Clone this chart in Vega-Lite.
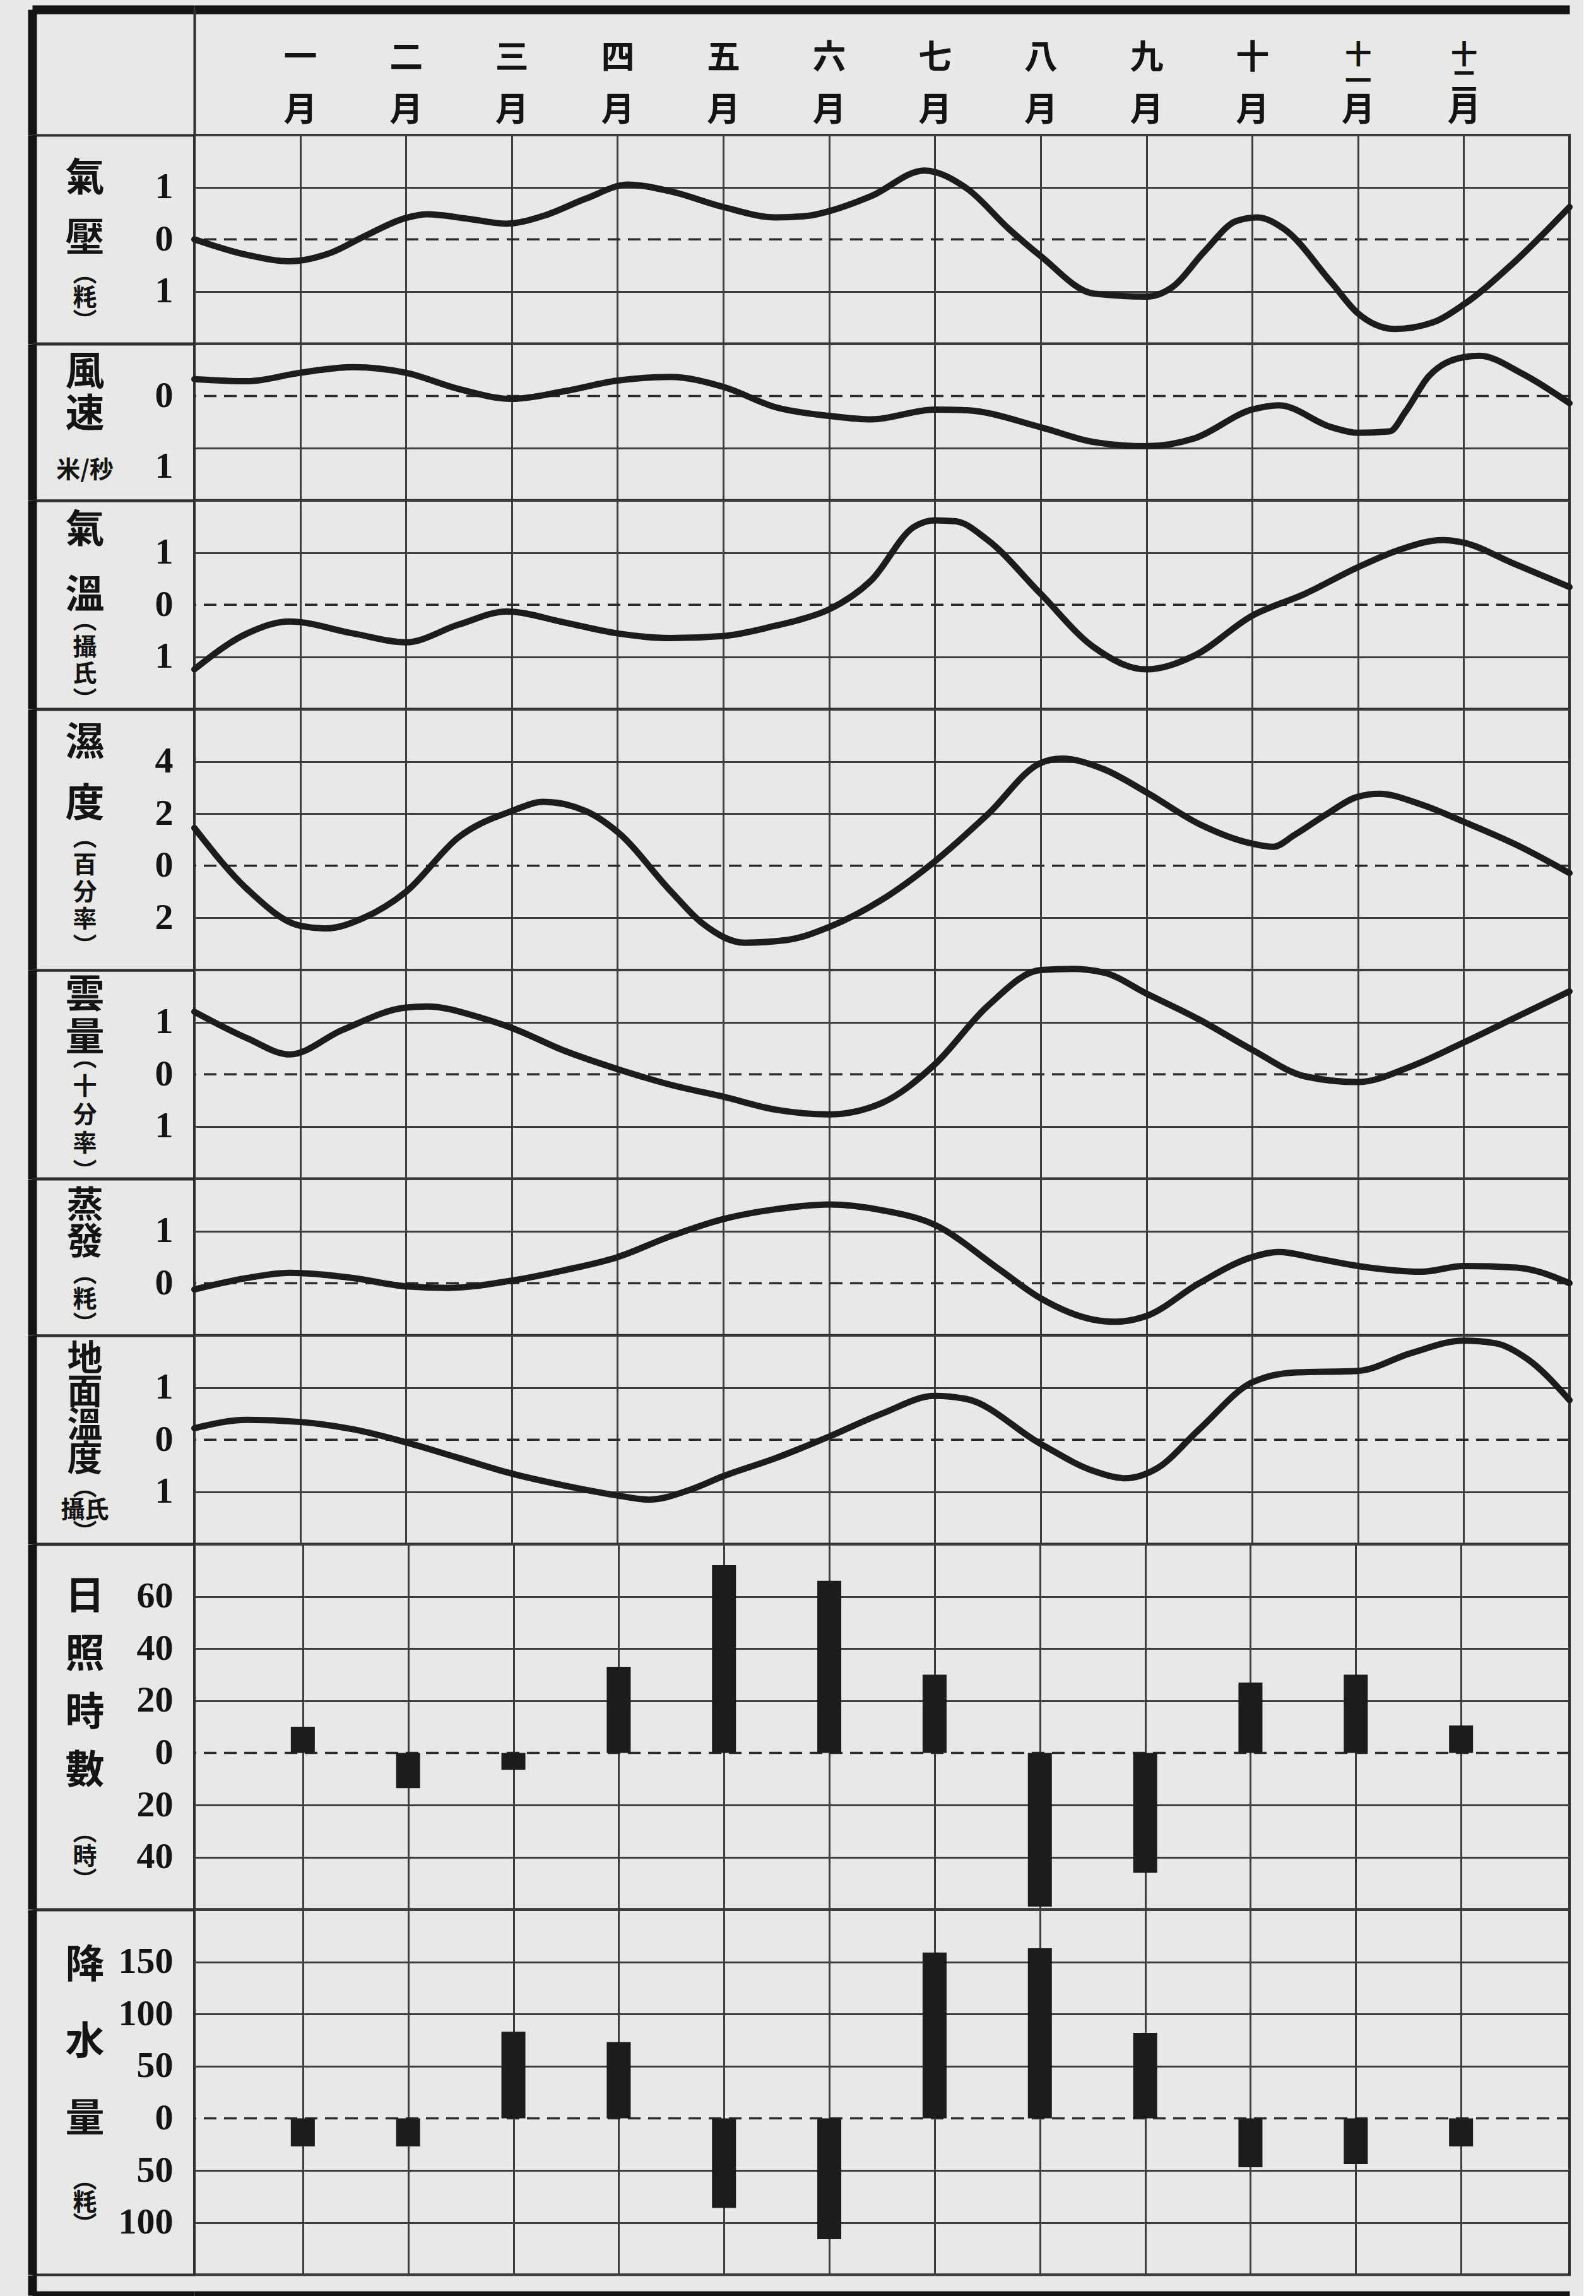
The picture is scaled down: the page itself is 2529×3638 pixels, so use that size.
{
  "$schema": "https://vega.github.io/schema/vega-lite/v6.json",
  "background": "#e8e8e6",
  "padding": {"left": 44, "top": 8, "right": 0, "bottom": 0},
  "bounds": "flush",
  "spacing": 0,
  "datasets": {
    "zero": [{"base": 0}],
    "pres": [
      {"m": 0, "v": 0}, {"m": 0.5, "v": -0.3}, {"m": 0.9, "v": -0.42}, {"m": 1.3, "v": -0.25}, {"m": 1.6, "v": 0.05},
      {"m": 2, "v": 0.41}, {"m": 2.2, "v": 0.48}, {"m": 2.6, "v": 0.39}, {"m": 2.95, "v": 0.3}, {"m": 3.3, "v": 0.45},
      {"m": 3.7, "v": 0.78}, {"m": 4.1, "v": 1.05}, {"m": 4.5, "v": 0.92}, {"m": 5, "v": 0.62}, {"m": 5.5, "v": 0.42},
      {"m": 5.8, "v": 0.45}, {"m": 6, "v": 0.54}, {"m": 6.4, "v": 0.83}, {"m": 6.9, "v": 1.32}, {"m": 7.3, "v": 0.98},
      {"m": 7.7, "v": 0.2}, {"m": 8, "v": -0.32}, {"m": 8.5, "v": -1.04}, {"m": 9, "v": -1.1}, {"m": 9.25, "v": -0.91},
      {"m": 9.55, "v": -0.23}, {"m": 9.85, "v": 0.35}, {"m": 10.05, "v": 0.42}, {"m": 10.3, "v": 0.2}, {"m": 10.75, "v": -0.83},
      {"m": 11, "v": -1.42}, {"m": 11.35, "v": -1.72}, {"m": 11.7, "v": -1.6}, {"m": 12, "v": -1.25}, {"m": 12.45, "v": -0.49},
      {"m": 13, "v": 0.62}
    ],
    "wind": [
      {"m": 0, "v": 0.24}, {"m": 0.5, "v": 0.21}, {"m": 1, "v": 0.33}, {"m": 1.5, "v": 0.41}, {"m": 2, "v": 0.33},
      {"m": 2.5, "v": 0.1}, {"m": 3, "v": -0.04}, {"m": 3.5, "v": 0.07}, {"m": 4, "v": 0.22}, {"m": 4.5, "v": 0.27},
      {"m": 5, "v": 0.13}, {"m": 5.5, "v": -0.16}, {"m": 6, "v": -0.28}, {"m": 6.4, "v": -0.33}, {"m": 7, "v": -0.19},
      {"m": 7.3, "v": -0.2}, {"m": 8, "v": -0.44}, {"m": 8.5, "v": -0.65}, {"m": 9, "v": -0.71}, {"m": 9.45, "v": -0.6},
      {"m": 10, "v": -0.19}, {"m": 10.25, "v": -0.13}, {"m": 10.75, "v": -0.44}, {"m": 11, "v": -0.52}, {"m": 11.3, "v": -0.5},
      {"m": 11.45, "v": -0.22}, {"m": 11.67, "v": 0.28}, {"m": 12, "v": 0.55}, {"m": 12.15, "v": 0.57}, {"m": 12.55, "v": 0.32},
      {"m": 13, "v": -0.1}
    ],
    "temp": [
      {"m": 0, "v": -1.24}, {"m": 0.5, "v": -0.55}, {"m": 0.9, "v": -0.32}, {"m": 1.5, "v": -0.55}, {"m": 2, "v": -0.72},
      {"m": 2.5, "v": -0.38}, {"m": 2.95, "v": -0.13}, {"m": 3.5, "v": -0.34}, {"m": 4, "v": -0.55}, {"m": 4.5, "v": -0.64},
      {"m": 5, "v": -0.6}, {"m": 5.5, "v": -0.4}, {"m": 5.7, "v": -0.3}, {"m": 6, "v": -0.09}, {"m": 6.4, "v": 0.47},
      {"m": 6.8, "v": 1.49}, {"m": 7, "v": 1.62}, {"m": 7.2, "v": 1.6}, {"m": 7.5, "v": 1.24}, {"m": 8, "v": 0.21},
      {"m": 8.5, "v": -0.81}, {"m": 9, "v": -1.24}, {"m": 9.45, "v": -0.98}, {"m": 10, "v": -0.21}, {"m": 10.5, "v": 0.21},
      {"m": 11, "v": 0.72}, {"m": 11.4, "v": 1.06}, {"m": 11.8, "v": 1.24}, {"m": 12, "v": 1.19}, {"m": 12.45, "v": 0.81},
      {"m": 13, "v": 0.34}
    ],
    "hum": [
      {"m": 0, "v": 1.45}, {"m": 0.5, "v": -0.9}, {"m": 1, "v": -2.3}, {"m": 1.25, "v": -2.4}, {"m": 1.6, "v": -2.0},
      {"m": 2, "v": -1.0}, {"m": 2.5, "v": 1.1}, {"m": 3, "v": 2.1}, {"m": 3.3, "v": 2.45}, {"m": 3.7, "v": 2.1},
      {"m": 4, "v": 1.3}, {"m": 4.5, "v": -0.96}, {"m": 4.8, "v": -2.2}, {"m": 5.2, "v": -2.95}, {"m": 5.6, "v": -2.85},
      {"m": 6, "v": -2.35}, {"m": 6.5, "v": -1.3}, {"m": 7, "v": 0.17}, {"m": 7.5, "v": 1.97}, {"m": 8, "v": 3.94},
      {"m": 8.2, "v": 4.11}, {"m": 8.6, "v": 3.7}, {"m": 9, "v": 2.82}, {"m": 9.5, "v": 1.6}, {"m": 10, "v": 0.85},
      {"m": 10.2, "v": 0.73}, {"m": 10.4, "v": 1.18}, {"m": 10.7, "v": 1.97}, {"m": 11, "v": 2.65}, {"m": 11.2, "v": 2.76},
      {"m": 11.6, "v": 2.35}, {"m": 12, "v": 1.69}, {"m": 12.5, "v": 0.8}, {"m": 13, "v": -0.28}
    ],
    "cloud": [
      {"m": 0, "v": 1.2}, {"m": 0.5, "v": 0.69}, {"m": 0.9, "v": 0.38}, {"m": 1.4, "v": 0.85}, {"m": 2, "v": 1.28},
      {"m": 2.2, "v": 1.3}, {"m": 2.7, "v": 1.09}, {"m": 3, "v": 0.89}, {"m": 3.5, "v": 0.45}, {"m": 4, "v": 0.1},
      {"m": 4.5, "v": -0.2}, {"m": 5, "v": -0.43}, {"m": 5.5, "v": -0.68}, {"m": 6, "v": -0.77}, {"m": 6.5, "v": -0.55},
      {"m": 7, "v": 0.19}, {"m": 7.5, "v": 1.31}, {"m": 8, "v": 2.0}, {"m": 8.3, "v": 2.02}, {"m": 8.6, "v": 1.95},
      {"m": 9, "v": 1.55}, {"m": 9.5, "v": 1.05}, {"m": 10, "v": 0.47}, {"m": 10.5, "v": -0.04}, {"m": 11, "v": -0.15},
      {"m": 11.5, "v": 0.15}, {"m": 12, "v": 0.61}, {"m": 12.5, "v": 1.1}, {"m": 13, "v": 1.59}
    ],
    "evap": [
      {"m": 0, "v": -0.12}, {"m": 0.5, "v": 0.1}, {"m": 0.9, "v": 0.2}, {"m": 1.5, "v": 0.1}, {"m": 2, "v": -0.06},
      {"m": 2.4, "v": -0.09}, {"m": 3, "v": 0.05}, {"m": 3.5, "v": 0.25}, {"m": 4, "v": 0.5}, {"m": 4.5, "v": 0.9},
      {"m": 5, "v": 1.23}, {"m": 5.5, "v": 1.42}, {"m": 6, "v": 1.51}, {"m": 6.5, "v": 1.4}, {"m": 7, "v": 1.12},
      {"m": 7.6, "v": 0.28}, {"m": 8, "v": -0.29}, {"m": 8.5, "v": -0.7}, {"m": 8.7, "v": -0.74}, {"m": 9, "v": -0.63},
      {"m": 9.5, "v": 0.0}, {"m": 10, "v": 0.5}, {"m": 10.25, "v": 0.6}, {"m": 10.6, "v": 0.48}, {"m": 11, "v": 0.33},
      {"m": 11.6, "v": 0.22}, {"m": 12, "v": 0.33}, {"m": 12.5, "v": 0.3}, {"m": 13, "v": 0.0}
    ],
    "ground": [
      {"m": 0, "v": 0.22}, {"m": 0.5, "v": 0.38}, {"m": 1, "v": 0.34}, {"m": 1.5, "v": 0.2}, {"m": 2, "v": -0.05},
      {"m": 2.5, "v": -0.35}, {"m": 3, "v": -0.65}, {"m": 3.5, "v": -0.88}, {"m": 4, "v": -1.07}, {"m": 4.3, "v": -1.15},
      {"m": 4.7, "v": -0.95}, {"m": 5, "v": -0.7}, {"m": 5.5, "v": -0.35}, {"m": 6, "v": 0.06}, {"m": 6.5, "v": 0.5},
      {"m": 7, "v": 0.84}, {"m": 7.3, "v": 0.78}, {"m": 8, "v": -0.08}, {"m": 8.5, "v": -0.6}, {"m": 8.8, "v": -0.74},
      {"m": 9.1, "v": -0.55}, {"m": 9.5, "v": 0.2}, {"m": 10, "v": 1.1}, {"m": 10.4, "v": 1.29}, {"m": 11, "v": 1.32},
      {"m": 11.5, "v": 1.66}, {"m": 12, "v": 1.9}, {"m": 12.3, "v": 1.85}, {"m": 12.6, "v": 1.55}, {"m": 13, "v": 0.76}
    ],
    "sun": [
      {"m": 1, "v": 10}, {"m": 2, "v": -13.5}, {"m": 3, "v": -6.5}, {"m": 4, "v": 33}, {"m": 5, "v": 72}, {"m": 6, "v": 66},
      {"m": 7, "v": 30}, {"m": 8, "v": -59}, {"m": 9, "v": -46}, {"m": 10, "v": 27}, {"m": 11, "v": 30}, {"m": 12, "v": 10.5}
    ],
    "rain": [
      {"m": 1, "v": -27}, {"m": 2, "v": -27}, {"m": 3, "v": 83}, {"m": 4, "v": 73}, {"m": 5, "v": -86}, {"m": 6, "v": -116},
      {"m": 7, "v": 159}, {"m": 8, "v": 163}, {"m": 9, "v": 82}, {"m": 10, "v": -47}, {"m": 11, "v": -44}, {"m": 12, "v": -27}
    ]
  },
  "vconcat": [
    {
      "width": 2179, "height": 199,
      "view": {"stroke": null},
      "layer": [
        {
          "mark": {"type": "rule", "opacity": 0},
          "encoding": {
            "y": {"datum": 1, "type": "quantitative", "scale": {"domain": [0, 1], "nice": false},
              "axis": {"orient": "left", "values": [1], "ticks": true, "tickSize": 257, "tickWidth": 14, "tickColor": "#141414",
                "labels": false, "domain": true, "domainWidth": 4, "domainColor": "#2e2e2e", "grid": false, "title": null}}
          }
        },
        {
          "mark": {"type": "point", "opacity": 0},
          "encoding": {
            "x": {"datum": 1, "type": "quantitative", "scale": {"domain": [0, 13], "nice": false, "zero": false},
              "axis": {"orient": "top", "values": [1, 2, 3, 4, 5, 6, 7, 8, 9, 10, 11, 12],
                "labelExpr": "[['一','月'],['二','月'],['三','月'],['四','月'],['五','月'],['六','月'],['七','月'],['八','月'],['九','月'],['十','月'],[' ','月'],[' ','月']][datum.value - 1]",
                "labelFont": "Noto Sans CJK JP", "labelFontWeight": "bold", "labelFontSize": 53, "labelLineHeight": 83,
                "labelBaseline": "top", "labelPadding": -51, "labelFlush": false, "labelOverlap": false, "labelBound": false,
                "ticks": false, "tickSize": 0, "domain": true, "domainWidth": 14, "domainColor": "#141414", "grid": false, "title": null}},
            "y": {"datum": 0, "type": "quantitative", "scale": {"domain": [0, 1], "nice": false},
              "axis": {"orient": "left", "offset": 257, "domain": true, "domainWidth": 14, "domainColor": "#141414", "ticks": false, "labels": false, "grid": false, "title": null}}
          }
        },
        {
          "mark": {"type": "point", "opacity": 0},
          "encoding": {
            "x": {"datum": 1, "type": "quantitative", "scale": {"domain": [0, 13], "nice": false, "zero": false},
              "axis": {"orient": "top", "values": [11, 12],
                "labelExpr": "datum.value == 11 ? ['十','一'] : ['十','二']",
                "labelFont": "Noto Sans CJK JP", "labelFontWeight": "bold", "labelFontSize": 42, "labelLineHeight": 42,
                "labelBaseline": "top", "labelPadding": -52, "labelFlush": false, "labelOverlap": false,
                "ticks": false, "tickSize": 0, "domain": false, "grid": false, "title": null}}
          }
        }
      ],
      "resolve": {"scale": {"x": "independent", "y": "independent"}, "axis": {"x": "independent", "y": "independent"}}
    },
    {
      "width": 2179, "height": 330.4,
      "layer": [
        {
          "mark": {"type": "rule", "opacity": 0},
          "encoding": {
            "y": {"datum": 0, "type": "quantitative", "scale": {"domain": [0, 4], "nice": false, "zero": false},
              "axis": {"orient": "left", "values": [0, 1, 3, 4], "grid": true, "ticks": true, "tickSize": 257, "tickWidth": 4,
                "tickColor": {"condition": {"test": "datum.value == 0 || datum.value == 4", "value": "#2e2e2e"}, "value": "transparent"},
                "labels": false, "domain": false,
                "title": ["︵", "粍", "︶"], "titleX": -174, "titleY": 220, "titleFontSize": 38, "titleLineHeight": 38,
                "titleAngle": 0, "titleAlign": "center", "titleBaseline": "middle"}}
          }
        },
        {
          "layer": [
            {"data": {"name": "zero"},
              "mark": {"type": "rule", "strokeDash": [20, 12], "strokeWidth": 3.5, "color": "#2a2a2a"},
              "encoding": {"y": {"field": "base", "type": "quantitative"}}},
            {
              "data": {"name": "pres"},
              "mark": {"type": "line", "interpolate": "monotone", "strokeWidth": 10, "color": "#1c1c1c", "strokeCap": "round"},
              "encoding": {
                "x": {"field": "m", "type": "quantitative", "scale": {"domain": [0, 13], "nice": false, "zero": false},
                  "axis": {"orient": "bottom", "values": [1, 2, 3, 4, 5, 6, 7, 8, 9, 10, 11, 12], "grid": true, "labels": false, "ticks": false, "domain": false, "title": null}},
                "y": {"field": "v", "type": "quantitative", "scale": {"domain": [-2, 2], "nice": false, "zero": false},
                  "axis": {"orient": "left", "offset": 257, "values": [1, 0, -1], "labelExpr": "abs(datum.value)",
                    "ticks": false, "tickSize": 0, "grid": false, "domain": true, "domainWidth": 14, "domainColor": "#141414",
                    "labelPadding": -223, "labelFont": "Liberation Serif", "labelFontWeight": "bold", "labelFontSize": 58, "labelOverlap": false,
                    "title": ["氣", "壓"], "titleX": 83, "titleY": 69, "titleFontSize": 62, "titleLineHeight": 95,
                    "titleAngle": 0, "titleAlign": "center", "titleBaseline": "middle"}}
              }
            }
          ]
        }
      ],
      "resolve": {"scale": {"y": "independent"}, "axis": {"y": "independent"}}
    },
    {
      "width": 2179, "height": 247.8,
      "layer": [
        {
          "mark": {"type": "rule", "opacity": 0},
          "encoding": {
            "y": {"datum": 0, "type": "quantitative", "scale": {"domain": [0, 3], "nice": false, "zero": false},
              "axis": {"orient": "left", "values": [0, 1, 3], "grid": true, "ticks": true, "tickSize": 257, "tickWidth": 4,
                "tickColor": {"condition": {"test": "datum.value == 0 || datum.value == 3", "value": "#2e2e2e"}, "value": "transparent"},
                "labels": false, "domain": false,
                "title": "米/秒", "titleX": -174, "titleY": 200, "titleFontSize": 38,
                "titleAngle": 0, "titleAlign": "center", "titleBaseline": "middle"}}
          }
        },
        {
          "layer": [
            {"data": {"name": "zero"},
              "mark": {"type": "rule", "strokeDash": [20, 12], "strokeWidth": 3.5, "color": "#2a2a2a"},
              "encoding": {"y": {"field": "base", "type": "quantitative"}}},
            {
              "data": {"name": "wind"},
              "mark": {"type": "line", "interpolate": "monotone", "strokeWidth": 10, "color": "#1c1c1c", "strokeCap": "round"},
              "encoding": {
                "x": {"field": "m", "type": "quantitative", "scale": {"domain": [0, 13], "nice": false, "zero": false},
                  "axis": {"orient": "bottom", "values": [1, 2, 3, 4, 5, 6, 7, 8, 9, 10, 11, 12], "grid": true, "labels": false, "ticks": false, "domain": false, "title": null}},
                "y": {"field": "v", "type": "quantitative", "scale": {"domain": [-1.475, 0.7375], "nice": false, "zero": false},
                  "axis": {"orient": "left", "offset": 257, "values": [0, -1], "labelExpr": "abs(datum.value)",
                    "ticks": false, "tickSize": 0, "grid": false, "domain": true, "domainWidth": 14, "domainColor": "#141414",
                    "labelPadding": -223, "labelFont": "Liberation Serif", "labelFontWeight": "bold", "labelFontSize": 58, "labelOverlap": false,
                    "title": ["風", "速"], "titleX": 83, "titleY": 45, "titleFontSize": 62, "titleLineHeight": 67,
                    "titleAngle": 0, "titleAlign": "center", "titleBaseline": "middle"}}
              }
            }
          ]
        }
      ],
      "resolve": {"scale": {"y": "independent"}, "axis": {"y": "independent"}}
    },
    {
      "width": 2179, "height": 330.4,
      "layer": [
        {
          "mark": {"type": "rule", "opacity": 0},
          "encoding": {
            "y": {"datum": 0, "type": "quantitative", "scale": {"domain": [0, 4], "nice": false, "zero": false},
              "axis": {"orient": "left", "values": [0, 1, 3, 4], "grid": true, "ticks": true, "tickSize": 257, "tickWidth": 4,
                "tickColor": {"condition": {"test": "datum.value == 0 || datum.value == 4", "value": "#2e2e2e"}, "value": "transparent"},
                "labels": false, "domain": false,
                "title": ["︵", "攝", "氏", "︶"], "titleX": -174, "titleY": 191, "titleFontSize": 38, "titleLineHeight": 42,
                "titleAngle": 0, "titleAlign": "center", "titleBaseline": "middle"}}
          }
        },
        {
          "layer": [
            {"data": {"name": "zero"},
              "mark": {"type": "rule", "strokeDash": [20, 12], "strokeWidth": 3.5, "color": "#2a2a2a"},
              "encoding": {"y": {"field": "base", "type": "quantitative"}}},
            {
              "data": {"name": "temp"},
              "mark": {"type": "line", "interpolate": "monotone", "strokeWidth": 10, "color": "#1c1c1c", "strokeCap": "round"},
              "encoding": {
                "x": {"field": "m", "type": "quantitative", "scale": {"domain": [0, 13], "nice": false, "zero": false},
                  "axis": {"orient": "bottom", "values": [1, 2, 3, 4, 5, 6, 7, 8, 9, 10, 11, 12], "grid": true, "labels": false, "ticks": false, "domain": false, "title": null}},
                "y": {"field": "v", "type": "quantitative", "scale": {"domain": [-2, 2], "nice": false, "zero": false},
                  "axis": {"orient": "left", "offset": 257, "values": [1, 0, -1], "labelExpr": "abs(datum.value)",
                    "ticks": false, "tickSize": 0, "grid": false, "domain": true, "domainWidth": 14, "domainColor": "#141414",
                    "labelPadding": -223, "labelFont": "Liberation Serif", "labelFontWeight": "bold", "labelFontSize": 58, "labelOverlap": false,
                    "title": ["氣", "溫"], "titleX": 83, "titleY": 47, "titleFontSize": 62, "titleLineHeight": 104,
                    "titleAngle": 0, "titleAlign": "center", "titleBaseline": "middle"}}
              }
            }
          ]
        }
      ],
      "resolve": {"scale": {"y": "independent"}, "axis": {"y": "independent"}}
    },
    {
      "width": 2179, "height": 413,
      "layer": [
        {
          "mark": {"type": "rule", "opacity": 0},
          "encoding": {
            "y": {"datum": 0, "type": "quantitative", "scale": {"domain": [0, 5], "nice": false, "zero": false},
              "axis": {"orient": "left", "values": [0, 1, 3, 4, 5], "grid": true, "ticks": true, "tickSize": 257, "tickWidth": 4,
                "tickColor": {"condition": {"test": "datum.value == 0 || datum.value == 5", "value": "#2e2e2e"}, "value": "transparent"},
                "labels": false, "domain": false,
                "title": ["︵", "百", "分", "率", "︶"], "titleX": -174, "titleY": 204, "titleFontSize": 38, "titleLineHeight": 43,
                "titleAngle": 0, "titleAlign": "center", "titleBaseline": "middle"}}
          }
        },
        {
          "layer": [
            {"data": {"name": "zero"},
              "mark": {"type": "rule", "strokeDash": [20, 12], "strokeWidth": 3.5, "color": "#2a2a2a"},
              "encoding": {"y": {"field": "base", "type": "quantitative"}}},
            {
              "data": {"name": "hum"},
              "mark": {"type": "line", "interpolate": "monotone", "strokeWidth": 10, "color": "#1c1c1c", "strokeCap": "round"},
              "encoding": {
                "x": {"field": "m", "type": "quantitative", "scale": {"domain": [0, 13], "nice": false, "zero": false},
                  "axis": {"orient": "bottom", "values": [1, 2, 3, 4, 5, 6, 7, 8, 9, 10, 11, 12], "grid": true, "labels": false, "ticks": false, "domain": false, "title": null}},
                "y": {"field": "v", "type": "quantitative", "scale": {"domain": [-4, 6], "nice": false, "zero": false},
                  "axis": {"orient": "left", "offset": 257, "values": [4, 2, 0, -2], "labelExpr": "abs(datum.value)",
                    "ticks": false, "tickSize": 0, "grid": false, "domain": true, "domainWidth": 14, "domainColor": "#141414",
                    "labelPadding": -223, "labelFont": "Liberation Serif", "labelFontWeight": "bold", "labelFontSize": 58, "labelOverlap": false,
                    "title": ["濕", "度"], "titleX": 83, "titleY": 53, "titleFontSize": 62, "titleLineHeight": 97,
                    "titleAngle": 0, "titleAlign": "center", "titleBaseline": "middle"}}
              }
            }
          ]
        }
      ],
      "resolve": {"scale": {"y": "independent"}, "axis": {"y": "independent"}}
    },
    {
      "width": 2179, "height": 330.4,
      "layer": [
        {
          "mark": {"type": "rule", "opacity": 0},
          "encoding": {
            "y": {"datum": 0, "type": "quantitative", "scale": {"domain": [0, 4], "nice": false, "zero": false},
              "axis": {"orient": "left", "values": [0, 1, 3, 4], "grid": true, "ticks": true, "tickSize": 257, "tickWidth": 4,
                "tickColor": {"condition": {"test": "datum.value == 0 || datum.value == 4", "value": "#2e2e2e"}, "value": "transparent"},
                "labels": false, "domain": false,
                "title": ["︵", "十", "分", "率", "︶"], "titleX": -174, "titleY": 140, "titleFontSize": 38, "titleLineHeight": 45,
                "titleAngle": 0, "titleAlign": "center", "titleBaseline": "middle"}}
          }
        },
        {
          "layer": [
            {"data": {"name": "zero"},
              "mark": {"type": "rule", "strokeDash": [20, 12], "strokeWidth": 3.5, "color": "#2a2a2a"},
              "encoding": {"y": {"field": "base", "type": "quantitative"}}},
            {
              "data": {"name": "cloud"},
              "mark": {"type": "line", "interpolate": "monotone", "strokeWidth": 10, "color": "#1c1c1c", "strokeCap": "round"},
              "encoding": {
                "x": {"field": "m", "type": "quantitative", "scale": {"domain": [0, 13], "nice": false, "zero": false},
                  "axis": {"orient": "bottom", "values": [1, 2, 3, 4, 5, 6, 7, 8, 9, 10, 11, 12], "grid": true, "labels": false, "ticks": false, "domain": false, "title": null}},
                "y": {"field": "v", "type": "quantitative", "scale": {"domain": [-2, 2], "nice": false, "zero": false},
                  "axis": {"orient": "left", "offset": 257, "values": [1, 0, -1], "labelExpr": "abs(datum.value)",
                    "ticks": false, "tickSize": 0, "grid": false, "domain": true, "domainWidth": 14, "domainColor": "#141414",
                    "labelPadding": -223, "labelFont": "Liberation Serif", "labelFontWeight": "bold", "labelFontSize": 58, "labelOverlap": false,
                    "title": ["雲", "量"], "titleX": 83, "titleY": 40, "titleFontSize": 62, "titleLineHeight": 68,
                    "titleAngle": 0, "titleAlign": "center", "titleBaseline": "middle"}}
              }
            }
          ]
        }
      ],
      "resolve": {"scale": {"y": "independent"}, "axis": {"y": "independent"}}
    },
    {
      "width": 2179, "height": 247.8,
      "layer": [
        {
          "mark": {"type": "rule", "opacity": 0},
          "encoding": {
            "y": {"datum": 0, "type": "quantitative", "scale": {"domain": [0, 3], "nice": false, "zero": false},
              "axis": {"orient": "left", "values": [0, 2, 3], "grid": true, "ticks": true, "tickSize": 257, "tickWidth": 4,
                "tickColor": {"condition": {"test": "datum.value == 0 || datum.value == 3", "value": "#2e2e2e"}, "value": "transparent"},
                "labels": false, "domain": false,
                "title": ["︵", "粍", "︶"], "titleX": -174, "titleY": 151, "titleFontSize": 38, "titleLineHeight": 40,
                "titleAngle": 0, "titleAlign": "center", "titleBaseline": "middle"}}
          }
        },
        {
          "layer": [
            {"data": {"name": "zero"},
              "mark": {"type": "rule", "strokeDash": [20, 12], "strokeWidth": 3.5, "color": "#2a2a2a"},
              "encoding": {"y": {"field": "base", "type": "quantitative"}}},
            {
              "data": {"name": "evap"},
              "mark": {"type": "line", "interpolate": "monotone", "strokeWidth": 10, "color": "#1c1c1c", "strokeCap": "round"},
              "encoding": {
                "x": {"field": "m", "type": "quantitative", "scale": {"domain": [0, 13], "nice": false, "zero": false},
                  "axis": {"orient": "bottom", "values": [1, 2, 3, 4, 5, 6, 7, 8, 9, 10, 11, 12], "grid": true, "labels": false, "ticks": false, "domain": false, "title": null}},
                "y": {"field": "v", "type": "quantitative", "scale": {"domain": [-1, 2], "nice": false, "zero": false},
                  "axis": {"orient": "left", "offset": 257, "values": [1, 0], "labelExpr": "abs(datum.value)",
                    "ticks": false, "tickSize": 0, "grid": false, "domain": true, "domainWidth": 14, "domainColor": "#141414",
                    "labelPadding": -223, "labelFont": "Liberation Serif", "labelFontWeight": "bold", "labelFontSize": 58, "labelOverlap": false,
                    "title": ["蒸", "發"], "titleX": 83, "titleY": 43, "titleFontSize": 58, "titleLineHeight": 58,
                    "titleAngle": 0, "titleAlign": "center", "titleBaseline": "middle"}}
              }
            }
          ]
        }
      ],
      "resolve": {"scale": {"y": "independent"}, "axis": {"y": "independent"}}
    },
    {
      "width": 2179, "height": 330.4,
      "layer": [
        {
          "mark": {"type": "rule", "opacity": 0},
          "encoding": {
            "y": {"datum": 0, "type": "quantitative", "scale": {"domain": [0, 4], "nice": false, "zero": false},
              "axis": {"orient": "left", "values": [0, 1, 3, 4], "grid": true, "ticks": true, "tickSize": 257, "tickWidth": 4,
                "tickColor": {"condition": {"test": "datum.value == 0 || datum.value == 4", "value": "#2e2e2e"}, "value": "transparent"},
                "labels": false, "domain": false,
                "title": ["︵", "攝氏", "︶"], "titleX": -174, "titleY": 241, "titleFontSize": 38, "titleLineHeight": 36,
                "titleAngle": 0, "titleAlign": "center", "titleBaseline": "middle"}}
          }
        },
        {
          "layer": [
            {"data": {"name": "zero"},
              "mark": {"type": "rule", "strokeDash": [20, 12], "strokeWidth": 3.5, "color": "#2a2a2a"},
              "encoding": {"y": {"field": "base", "type": "quantitative"}}},
            {
              "data": {"name": "ground"},
              "mark": {"type": "line", "interpolate": "monotone", "strokeWidth": 10, "color": "#1c1c1c", "strokeCap": "round"},
              "encoding": {
                "x": {"field": "m", "type": "quantitative", "scale": {"domain": [0, 13], "nice": false, "zero": false},
                  "axis": {"orient": "bottom", "values": [1, 2, 3, 4, 5, 6, 7, 8, 9, 10, 11, 12], "grid": true, "labels": false, "ticks": false, "domain": false, "title": null}},
                "y": {"field": "v", "type": "quantitative", "scale": {"domain": [-2, 2], "nice": false, "zero": false},
                  "axis": {"orient": "left", "offset": 257, "values": [1, 0, -1], "labelExpr": "abs(datum.value)",
                    "ticks": false, "tickSize": 0, "grid": false, "domain": true, "domainWidth": 14, "domainColor": "#141414",
                    "labelPadding": -223, "labelFont": "Liberation Serif", "labelFontWeight": "bold", "labelFontSize": 58, "labelOverlap": false,
                    "title": ["地", "面", "溫", "度"], "titleX": 83, "titleY": 37, "titleFontSize": 56, "titleLineHeight": 53,
                    "titleAngle": 0, "titleAlign": "center", "titleBaseline": "middle"}}
              }
            }
          ]
        }
      ],
      "resolve": {"scale": {"y": "independent"}, "axis": {"y": "independent"}}
    },
    {
      "width": 2179, "height": 578.2,
      "layer": [
        {
          "mark": {"type": "rule", "opacity": 0},
          "encoding": {
            "y": {"datum": 0, "type": "quantitative", "scale": {"domain": [0, 7], "nice": false, "zero": false},
              "axis": {"orient": "left", "values": [0, 1, 2, 4, 5, 6, 7], "grid": true, "ticks": true, "tickSize": 257, "tickWidth": 4,
                "tickColor": {"condition": {"test": "datum.value == 0 || datum.value == 7", "value": "#2e2e2e"}, "value": "transparent"},
                "labels": false, "domain": false,
                "title": ["︵", "時", "︶"], "titleX": -174, "titleY": 457, "titleFontSize": 38, "titleLineHeight": 38,
                "titleAngle": 0, "titleAlign": "center", "titleBaseline": "middle"}}
          }
        },
        {
          "layer": [
            {"data": {"name": "zero"},
              "mark": {"type": "rule", "strokeDash": [20, 12], "strokeWidth": 3.5, "color": "#2a2a2a"},
              "encoding": {"y": {"field": "base", "type": "quantitative"}}},
            {
              "data": {"name": "sun"},
              "mark": {"type": "bar", "width": 38, "color": "#1c1c1c"},
              "encoding": {
                "x": {"field": "m", "type": "quantitative", "scale": {"domain": [0, 13], "nice": false, "zero": false},
                  "axis": {"orient": "bottom", "values": [1, 2, 3, 4, 5, 6, 7, 8, 9, 10, 11, 12], "grid": true, "labels": false, "ticks": false, "domain": false, "title": null}},
                "y": {"field": "v", "type": "quantitative", "scale": {"domain": [-60, 80], "nice": false, "zero": false},
                  "axis": {"orient": "left", "offset": 257, "values": [60, 40, 20, 0, -20, -40], "labelExpr": "abs(datum.value)",
                    "ticks": false, "tickSize": 0, "grid": false, "domain": true, "domainWidth": 14, "domainColor": "#141414",
                    "labelPadding": -223, "labelFont": "Liberation Serif", "labelFontWeight": "bold", "labelFontSize": 58, "labelOverlap": false,
                    "title": ["日", "照", "時", "數"], "titleX": 83, "titleY": 83, "titleFontSize": 62, "titleLineHeight": 92,
                    "titleAngle": 0, "titleAlign": "center", "titleBaseline": "middle"}},
                "y2": {"datum": 0}
              }
            }
          ]
        }
      ],
      "resolve": {"scale": {"y": "independent"}, "axis": {"y": "independent"}}
    },
    {
      "width": 2179, "height": 578.2,
      "layer": [
        {
          "mark": {"type": "rule", "opacity": 0},
          "encoding": {
            "y": {"datum": 0, "type": "quantitative", "scale": {"domain": [0, 7], "nice": false, "zero": false},
              "axis": {"orient": "left", "values": [0, 1, 2, 4, 5, 6, 7], "grid": true, "ticks": true, "tickSize": 257, "tickWidth": 4,
                "tickColor": {"condition": {"test": "datum.value == 0 || datum.value == 7", "value": "#2e2e2e"}, "value": "transparent"},
                "labels": false, "domain": false,
                "title": ["︵", "粍", "︶"], "titleX": -174, "titleY": 428, "titleFontSize": 38, "titleLineHeight": 36,
                "titleAngle": 0, "titleAlign": "center", "titleBaseline": "middle"}}
          }
        },
        {
          "layer": [
            {"data": {"name": "zero"},
              "mark": {"type": "rule", "strokeDash": [20, 12], "strokeWidth": 3.5, "color": "#2a2a2a"},
              "encoding": {"y": {"field": "base", "type": "quantitative"}}},
            {
              "data": {"name": "rain"},
              "mark": {"type": "bar", "width": 38, "color": "#1c1c1c"},
              "encoding": {
                "x": {"field": "m", "type": "quantitative", "scale": {"domain": [0, 13], "nice": false, "zero": false},
                  "axis": {"orient": "bottom", "values": [1, 2, 3, 4, 5, 6, 7, 8, 9, 10, 11, 12], "grid": true, "labels": false, "ticks": false, "domain": false, "title": null}},
                "y": {"field": "v", "type": "quantitative", "scale": {"domain": [-150, 200], "nice": false, "zero": false},
                  "axis": {"orient": "left", "offset": 257, "values": [150, 100, 50, 0, -50, -100], "labelExpr": "abs(datum.value)",
                    "ticks": false, "tickSize": 0, "grid": false, "domain": true, "domainWidth": 14, "domainColor": "#141414",
                    "labelPadding": -223, "labelFont": "Liberation Serif", "labelFontWeight": "bold", "labelFontSize": 58, "labelOverlap": false,
                    "title": ["降", "水", "量"], "titleX": 83, "titleY": 88, "titleFontSize": 62, "titleLineHeight": 122,
                    "titleAngle": 0, "titleAlign": "center", "titleBaseline": "middle"}},
                "y2": {"datum": 0}
              }
            }
          ]
        }
      ],
      "resolve": {"scale": {"y": "independent"}, "axis": {"y": "independent"}}
    },
    {
      "width": 2179, "height": 32,
      "view": {"stroke": null},
      "layer": [
        {
          "mark": {"type": "rule", "opacity": 0},
          "encoding": {
            "y": {"datum": 0, "type": "quantitative", "scale": {"domain": [0, 1], "nice": false},
              "axis": {"orient": "left", "values": [0], "ticks": true, "tickSize": 257, "tickWidth": 14, "tickColor": "#141414",
                "labels": false, "domain": false, "grid": false, "title": null}}
          }
        },
        {
          "mark": {"type": "point", "opacity": 0},
          "encoding": {
            "x": {"datum": 1, "type": "quantitative", "scale": {"domain": [0, 13], "nice": false, "zero": false},
              "axis": {"orient": "bottom", "labels": false, "ticks": false, "domain": true, "domainWidth": 14, "domainColor": "#141414", "grid": false, "title": null}},
            "y": {"datum": 0, "type": "quantitative", "scale": {"domain": [0, 1], "nice": false},
              "axis": {"orient": "left", "offset": 257, "domain": true, "domainWidth": 14, "domainColor": "#141414", "ticks": false, "labels": false, "grid": false, "title": null}}
          }
        }
      ],
      "resolve": {"scale": {"x": "independent", "y": "independent"}, "axis": {"x": "independent", "y": "independent"}}
    }
  ],
  "config": {
    "view": {"stroke": "#2e2e2e", "strokeWidth": 4},
    "axis": {
      "gridColor": "#3d3d3d", "gridWidth": 3, "gridOpacity": 1,
      "titleFont": "Noto Sans CJK JP", "titleFontWeight": "bold", "titleColor": "#141414",
      "labelColor": "#141414"
    }
  }
}
